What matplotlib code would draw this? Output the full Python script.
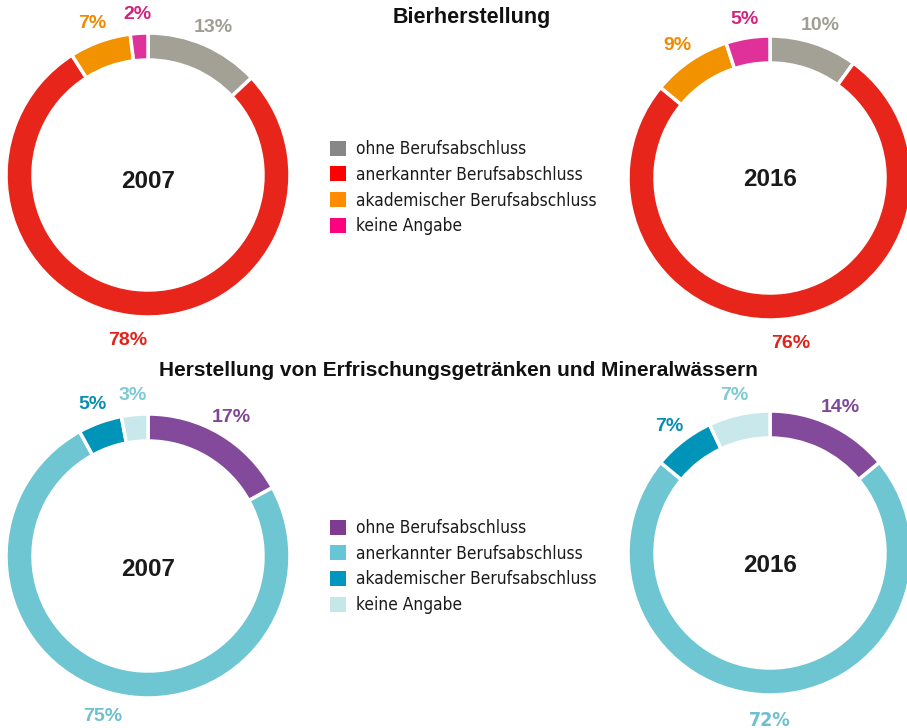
import matplotlib
matplotlib.use("Agg")
import matplotlib.pyplot as plt
from matplotlib.patches import Patch
import numpy as np

W, H = 907, 728

categories = ["ohne Berufsabschluss", "anerkannter Berufsabschluss",
              "akademischer Berufsabschluss", "keine Angabe"]
years = ["2007", "2016"]

bier_2007 = [13, 78, 7, 2]
bier_2016 = [10, 76, 9, 5]
erfr_2007 = [17, 75, 5, 3]
erfr_2016 = [14, 72, 7, 7]

title_bier = "Bierherstellung"
title_erfr = "Herstellung von Erfrischungsgetränken und Mineralwässern"

bier_colors = ["#A3A195", "#E8251A", "#F39200", "#E0309A"]
bier_label_colors = ["#A09E94", "#E2231A", "#F08A00", "#D4237F"]
bier_legend_colors = ["#878787", "#FF0000", "#FF8C00", "#FF0080"]

erfr_colors = ["#83499A", "#6EC6D2", "#0095B8", "#C8E8EC"]
erfr_label_colors = ["#7E4796", "#6DC0CF", "#0A8DB0", "#7CCAD6"]
erfr_legend_colors = ["#7D3C8F", "#66C6D6", "#0096BE", "#C6E7EA"]

plt.rcParams['font.family'] = ['Liberation Sans', 'DejaVu Sans']
fig = plt.figure(figsize=(W / 100, H / 100), dpi=100)

HALF = 200
R = 142
RW = 27
RL = 164
LBL_DY = -3


def donut(cx, cy, values, colors, label_colors, year, year_dy, narrow_idx=None):
    ax = fig.add_axes([(cx - HALF) / W, (H - cy - HALF) / H, 2 * HALF / W, 2 * HALF / H])
    ax.pie(values, radius=R, startangle=90, counterclock=False, colors=colors,
           wedgeprops=dict(width=RW, edgecolor="white", linewidth=2.5))
    ax.set_xlim(-HALF, HALF)
    ax.set_ylim(-HALF, HALF)
    ax.set_aspect("equal")
    ax.axis("off")
    total = float(sum(values))
    cum = np.cumsum([0] + list(values))
    for i, v in enumerate(values):
        mid = (cum[i] + cum[i + 1]) / 2 / total
        ang = np.deg2rad(90 - mid * 360)
        x, y = RL * np.cos(ang), RL * np.sin(ang) + LBL_DY
        if narrow_idx == i:
            ax.text(x, y, f"{v}%", ha="center", va="center",
                    fontsize=14, fontweight="bold", color=label_colors[i],
                    family="DejaVu Sans", fontstretch="condensed")
        else:
            ax.text(x, y, f"{v}%", ha="center", va="center",
                    fontsize=14, fontweight="bold", color=label_colors[i])
    ax.text(0, year_dy, year, ha="center", va="center", fontsize=17.5,
            fontweight="bold", color="#1a1a1a")


donut(148, 175, bier_2007, bier_colors, bier_label_colors, years[0], -7)
donut(770, 178, bier_2016, bier_colors, bier_label_colors, years[1], -2)
donut(148, 556, erfr_2007, erfr_colors, erfr_label_colors, years[0], -13)
donut(770, 553, erfr_2016, erfr_colors, erfr_label_colors, years[1], -12, narrow_idx=1)

fig.text(472 / W, 1 - 18 / H, title_bier, ha="center", va="center",
         fontsize=15.5, fontweight="bold", color="#111111")
fig.text(458 / W, 1 - 370 / H, title_erfr, ha="center", va="center",
         fontsize=15, fontweight="bold", color="#111111")


def legend(y_top, colors):
    handles = [Patch(facecolor=c, edgecolor="none") for c in colors]
    leg = fig.legend(handles, categories, loc="upper left",
                     bbox_to_anchor=(330 / W, 1 - y_top / H), frameon=False,
                     borderpad=0, borderaxespad=0, handlelength=0.95, handleheight=0.95,
                     handletextpad=0.55, labelspacing=0.45,
                     prop=dict(family='DejaVu Sans', stretch='condensed', size=12.4))
    for t in leg.get_texts():
        t.set_color("#1a1a1a")
    return leg


legend(140, bier_legend_colors)
legend(519, erfr_legend_colors)

fig.savefig("out.png", dpi=100)
